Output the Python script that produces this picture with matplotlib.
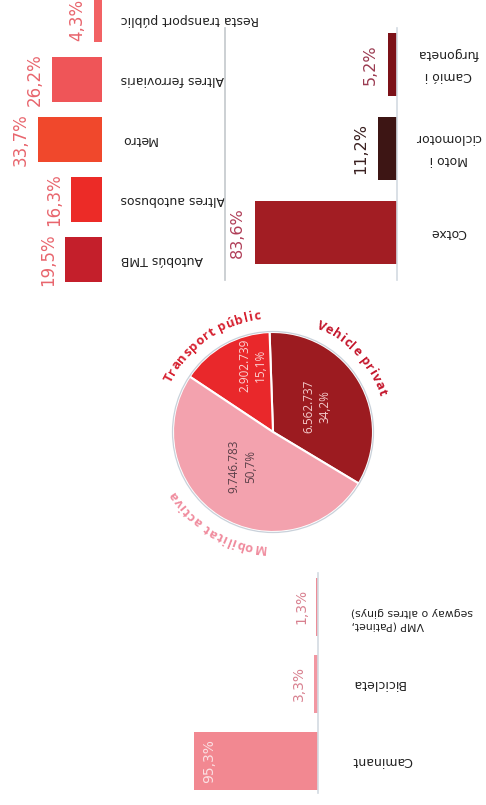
import matplotlib
matplotlib.use("Agg")
import matplotlib.pyplot as plt
import numpy as np
from matplotlib.font_manager import FontProperties, findfont, get_font
from matplotlib.textpath import TextToPath

# Transport públic breakdown (%)
pt_labels = ["Autobús TMB", "Altres autobusos", "Metro", "Altres ferroviaris", "Resta transport públic"]
pt_values = [19.5, 16.3, 33.7, 26.2, 4.3]
pt_colors = ["#c41f2b", "#ec2b27", "#f0482c", "#ef5558", "#f26264"]

# Vehicle privat breakdown (%)
vp_labels = ["Cotxe", "Moto i\nciclomotor", "Camió i\nfurgoneta"]
vp_values = [83.6, 11.2, 5.2]
vp_colors = ["#a21d23", "#3d1514", "#7c1118"]

# Mobilitat activa breakdown (%)
ma_labels = ["Caminant", "Bicicleta", "VMP (Patinet,\nsegway o altres ginys)"]
ma_values = [95.3, 3.3, 1.3]
ma_colors = ["#f28891", "#f297a2", "#ec8d98"]

# Trips per mode group
pie_labels = ["Vehicle privat", "Transport públic", "Mobilitat activa"]
pie_values = [6562737, 2902739, 9746783]
pie_colors = ["#9c1b20", "#e9282b", "#f3a2ae"]

W, H = 486, 805
DPI = 100
fig = plt.figure(figsize=(W / DPI, H / DPI), dpi=DPI)


def rect(x0, y0, x1, y1):
    # pixel box (top-left origin) -> figure fraction
    return [x0 / W, 1 - y1 / H, (x1 - x0) / W, (y1 - y0) / H]


def pct(v):
    return f"{v:.1f}%".replace(".", ",")


def bar_panel(box, labels, values, colors, xmax, ylim, pad, label_ha, linesp,
              pct_size, pct_colors, gap, inside=None):
    ax = fig.add_axes(rect(*box))
    pos = np.arange(len(values))
    ax.barh(pos, values, height=0.75, color=colors)
    ax.set_xlim(xmax, 0)
    ax.set_ylim(*ylim)
    ax.set_xticks([])
    ax.set_yticks(pos)
    ax.set_yticklabels(labels, rotation=180, fontsize=9, color="#222222",
                       linespacing=linesp, family="DejaVu Sans")
    ax.yaxis.tick_right()
    ax.tick_params(axis="y", length=0, pad=pad)
    for lab in ax.get_yticklabels():
        lab.set_ha(label_ha)
        lab.set_va("center")
    for sp in ax.spines.values():
        sp.set_visible(False)
    ax.patch.set_alpha(0)
    for i, v in enumerate(values):
        if inside is not None and v > 50:
            ax.annotate(pct(v), xy=(v, i), xytext=(gap, 0), textcoords="offset pixels",
                        rotation=90, ha="left", va="center", fontsize=pct_size,
                        color=inside, family="DejaVu Sans")
        else:
            ax.annotate(pct(v), xy=(v, i), xytext=(-gap, 0), textcoords="offset pixels",
                        rotation=90, ha="right", va="center", fontsize=pct_size,
                        color=pct_colors[i], family="DejaVu Sans")
    return ax


# top-left: public transport
bar_panel((0, 0, 102, 290), pt_labels, pt_values, pt_colors, 102 / 1.9, (-0.5, 4.333),
          13.5, "left", 1.2, 12, ["#e8656d"] * 5, 8)

# top-right: private vehicle
ax_vp = bar_panel((225, 28, 397, 280), vp_labels, vp_values, vp_colors, 172 / 1.7,
                  (-0.565, 2.435), 37, "center", 1.9, 11.5,
                  ["#b03e58", "#3a2020", "#9a3a50"], 10)
for side, col in (("left", "#c4c8cc"), ("right", "#d3dae2")):
    ax_vp.spines[side].set_visible(True)
    ax_vp.spines[side].set_color(col)
    ax_vp.spines[side].set_linewidth(1.2)

# bottom: active mobility
ax_ma = bar_panel((188, 573, 318, 793), ma_labels, ma_values, ma_colors, 100,
                  (-0.416, 2.44), 24, "left", 1.45, 10,
                  ["#d8808f", "#d8808f", "#d8808f"], 8, inside="#fbe0e3")
ax_ma.spines["right"].set_visible(True)
ax_ma.spines["right"].set_color("#d3dae2")
ax_ma.spines["right"].set_linewidth(1.2)
vmp = ax_ma.get_yticklabels()[2]
vmp.set_fontsize(7.8)
vmp.set_multialignment("right")
vmp.set_va("top")

# pie in the middle
ax_p = fig.add_axes(rect(123, 282, 423, 582))
ax_p.pie(pie_values, colors=pie_colors, startangle=-31, radius=1.0,
         wedgeprops=dict(edgecolor="white", linewidth=1.5))
ax_p.set_xlim(-1.5, 1.5)
ax_p.set_ylim(-1.5, 1.5)
ax_p.set_aspect("equal")
ax_p.axis("off")
ax_p.add_patch(plt.Circle((0, 0), 1.005, fill=False, edgecolor="#c9d1da", linewidth=0.9))

total = sum(pie_values)
inner_pos = [(0.51, 30), (0.70, 107), (0.46, 228)]
inner_col = ["#f4cccc", "#fbd3d3", "#5b4049"]
for v, (r, a), c in zip(pie_values, inner_pos, inner_col):
    t = np.radians(a)
    txt = f"{v:,}".replace(",", ".") + "\n" + f"{v / total * 100:.1f}%".replace(".", ",")
    ax_p.text(r * np.cos(t), r * np.sin(t), txt, rotation=90, ha="center", va="center",
              multialignment="center", fontsize=8.5, color=c, family="Open Sans",
              linespacing=1.3)

# group names written along the rim, one glyph at a time
ttp = TextToPath()
px_unit = 100.0   # pixels per pie data unit


def arc_text(s, r, center_deg, color, size, track=0.6):
    fp = FontProperties(family="Open Sans", weight="bold", size=size)
    ft = get_font(findfont(fp))

    def pen(i):
        # pen position before s[i], bracketed by "H" so ink bearings cancel out
        w = ttp.get_text_width_height_descent("H" + s[:i] + "H", fp, ismath=False)[0]
        return (w * DPI / 72 + i * track) / px_unit

    stops = [pen(i) for i in range(len(s) + 1)]
    centre = (stops[0] + stops[-1] - track / px_unit) / 2
    for i, ch in enumerate(s):
        if ch == " ":
            continue
        mid = (stops[i] + stops[i + 1] - track / px_unit) / 2 - centre
        th = np.radians(center_deg) - mid / r
        # Agg shifts each glyph bitmap sideways by its left bearing; undo that
        ft.set_size(size, DPI)
        ft.set_text(ch, 0.0)
        lsb = ft.get_bitmap_offset()[0] / 64.0 / px_unit
        ax_p.text(r * np.cos(th) - lsb, r * np.sin(th), ch,
                  rotation=np.degrees(th) - 90, rotation_mode="anchor",
                  ha="center", va="baseline", fontproperties=fp, color=color)


arc_pos = [43, 125, 239]
arc_col = ["#c4152b", "#d6202f", "#f08c9e"]
for lab, a, c in zip(pie_labels, arc_pos, arc_col):
    arc_text(lab, 1.13, a, c, 9.3)

fig.savefig("out.png", dpi=DPI)
